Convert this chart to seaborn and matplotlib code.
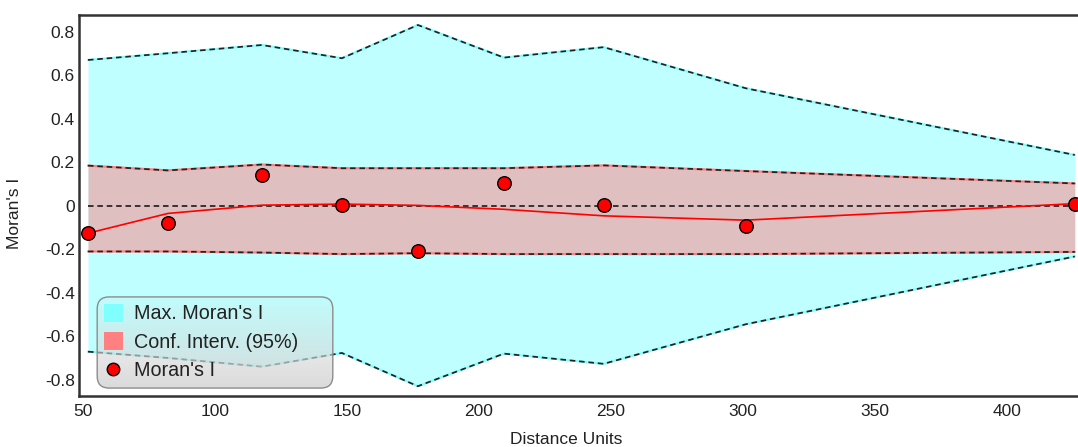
import numpy as np
import pandas as pd
import matplotlib
matplotlib.use("Agg")
import matplotlib.pyplot as plt
from matplotlib.patches import Patch, FancyBboxPatch
from matplotlib.lines import Line2D
import seaborn as sns

# Correlogram data: distance classes and Moran's I statistics
distance = [51.9, 82.2, 117.8, 148.1, 176.9, 209.5, 247.3, 301.1, 425.8]
morans_i = [-0.126, -0.080, 0.143, 0.002, -0.210, 0.107, 0.005, -0.095, 0.010]
trend = [-0.126, -0.035, 0.003, 0.008, 0.002, -0.016, -0.046, -0.066, 0.010]
max_upper = [0.671, 0.702, 0.740, 0.679, 0.832, 0.682, 0.730, 0.541, 0.234]
max_lower = [-0.671, -0.700, -0.740, -0.677, -0.830, -0.680, -0.727, -0.545, -0.233]
ci_upper = [0.185, 0.163, 0.190, 0.173, 0.173, 0.173, 0.186, 0.160, 0.103]
ci_lower = [-0.210, -0.210, -0.215, -0.222, -0.218, -0.222, -0.222, -0.222, -0.212]
expected = [0.0] * len(distance)

x_ticks = [50, 100, 150, 200, 250, 300, 350, 400]
y_ticks = [0.8, 0.6, 0.4, 0.2, 0.0, -0.2, -0.4, -0.6, -0.8]
y_tick_labels = ["0.8", "0.6", "0.4", "0.2", "0", "-0.2", "-0.4", "-0.6", "-0.8"]
legend_labels = ["Max. Moran's I", "Conf. Interv. (95%)", "Moran's I"]

df = pd.DataFrame({
    "distance": distance, "morans_i": morans_i, "trend": trend,
    "max_upper": max_upper, "max_lower": max_lower,
    "ci_upper": ci_upper, "ci_lower": ci_lower, "expected": expected,
})

sns.set_style("white")
plt.rcParams["font.family"] = ["Liberation Sans", "DejaVu Sans"]

CYAN = "#80FFFF"
SALMON = "#FF8080"
DASH = (0, (3.2, 2.2))
INK = "#222222"

fig = plt.figure(figsize=(10.78, 4.47), dpi=100)
ax = fig.add_axes([79 / 1078, 51 / 447, 999 / 1078, 381 / 447])

# Bands
ax.fill_between(df["distance"], df["max_lower"], df["max_upper"],
                color=CYAN, alpha=0.5, linewidth=0, zorder=1)
ax.fill_between(df["distance"], df["ci_lower"], df["ci_upper"],
                color=SALMON, alpha=0.5, linewidth=0, zorder=2)

# Coloured band edges under the dashed outlines
for col, c in [("max_upper", CYAN), ("max_lower", CYAN),
               ("ci_upper", SALMON), ("ci_lower", SALMON)]:
    sns.lineplot(data=df, x="distance", y=col, color=c, linewidth=1.6,
                 ax=ax, zorder=3, legend=False)

for col in ["max_upper", "max_lower", "ci_upper", "ci_lower", "expected"]:
    sns.lineplot(data=df, x="distance", y=col, color=INK, linewidth=1.25,
                 linestyle=DASH, ax=ax, zorder=4, legend=False)

# Trend line and observed values
sns.lineplot(data=df, x="distance", y="trend", color="#FF0000", linewidth=1.2,
             ax=ax, zorder=5, legend=False)
sns.scatterplot(data=df, x="distance", y="morans_i", color="#FF0000",
                edgecolor="black", linewidth=1.0, s=95, ax=ax, zorder=6,
                legend=False)

ax.set_xlim(48.5, 427)
ax.set_ylim(-0.875, 0.878)
ax.set_xticks(x_ticks)
ax.set_xticklabels([str(t) for t in x_ticks])
ax.set_yticks(y_ticks)
ax.set_yticklabels(y_tick_labels)
ax.tick_params(axis="both", length=0, labelsize=12.5, colors=INK)
ax.tick_params(axis="y", pad=3)
ax.tick_params(axis="x", pad=6)
ax.set_xlabel("Distance Units", fontsize=12.5, color=INK)
ax.set_ylabel("Moran's I", fontsize=12.5, color=INK)
ax.xaxis.set_label_coords(0.4875, -0.095)
ax.yaxis.set_label_coords(-0.057, 0.48)

for side in ["left", "bottom", "top"]:
    ax.spines[side].set_color("#333333")
    ax.spines[side].set_linewidth(1.8)
ax.spines["right"].set_visible(False)

# Legend panel with a vertical gradient (clear at top, grey at bottom)
lax = fig.add_axes([96 / 1078, 58 / 447, 238 / 1078, 93 / 447])
lax.set_xlim(0, 1)
lax.set_ylim(0, 1)
lax.axis("off")
lax.patch.set_alpha(0)
box = FancyBboxPatch((0.005, 0.01), 0.99, 0.98,
                     boxstyle="round,pad=0,rounding_size=0.05",
                     mutation_aspect=238 / 93,
                     facecolor="none", edgecolor="#8C8C8C", linewidth=1.0,
                     transform=lax.transAxes, zorder=3)
lax.add_patch(box)
grad = np.zeros((100, 2, 4))
t = np.linspace(0, 1, 100)[:, None]
grad[..., 0] = 0.85
grad[..., 1] = 0.85
grad[..., 2] = 0.85
grad[..., 3] = 0.08 + 0.86 * t
img = lax.imshow(grad, extent=(0, 1, 0, 1), origin="upper", aspect="auto",
                 zorder=1, interpolation="bilinear")
img.set_clip_path(box)

handles = [
    Patch(facecolor=CYAN, edgecolor="none"),
    Patch(facecolor=SALMON, edgecolor="none"),
    Line2D([], [], marker="o", linestyle="none", markerfacecolor="#FF0000",
           markeredgecolor="black", markeredgewidth=1.0, markersize=9),
]
leg = lax.legend(handles, legend_labels, loc="upper left",
                 bbox_to_anchor=(0.0, 1.0), frameon=False,
                 fontsize=14.2, handlelength=0.95, handleheight=1.0,
                 handletextpad=0.6, labelspacing=0.45, borderpad=0.2,
                 borderaxespad=0.2)
for txt in leg.get_texts():
    txt.set_color(INK)
leg.set_zorder(5)

fig.savefig("out.png", dpi=100)
